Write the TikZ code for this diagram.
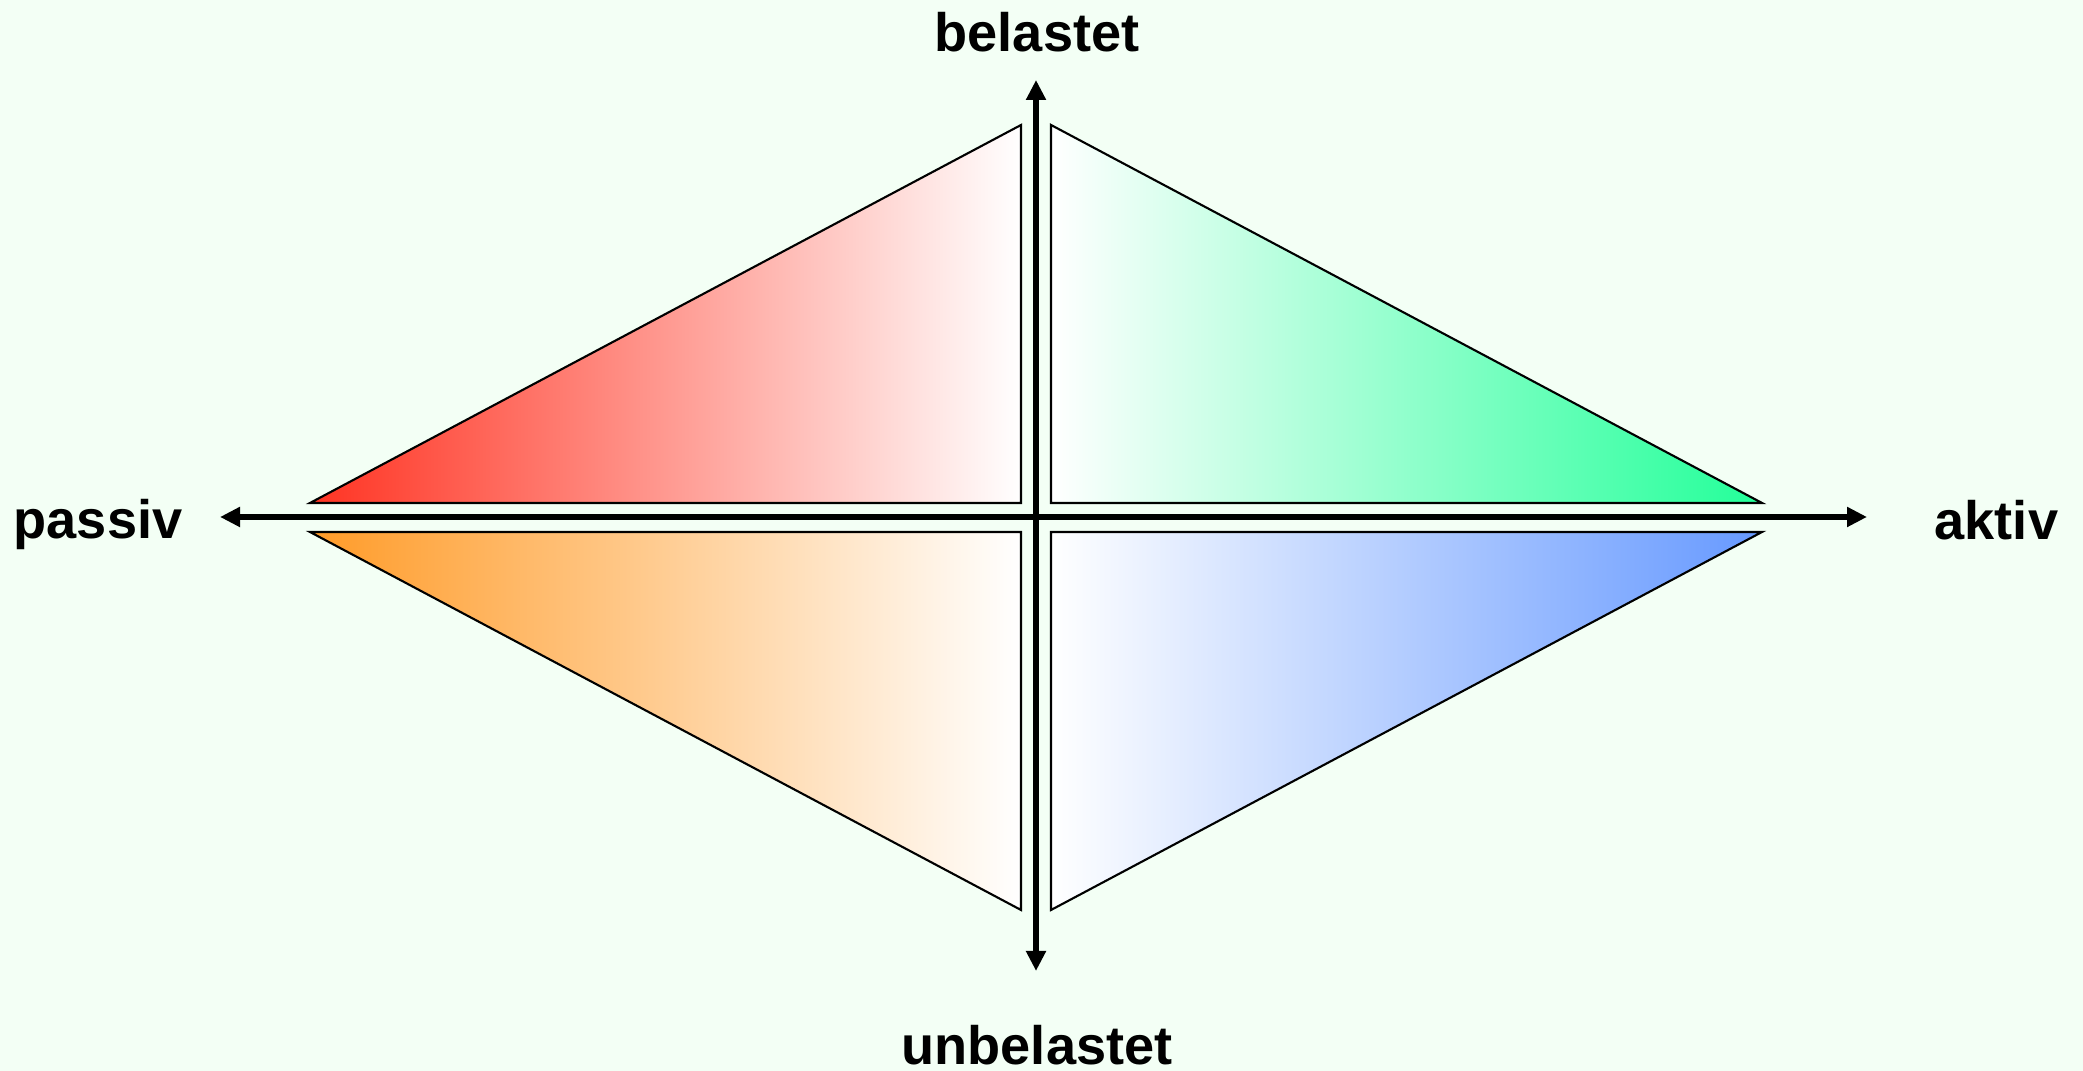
\documentclass[tikz,border=0pt]{standalone}
\usepackage{fontspec}
\setmainfont{Liberation Sans}
\usetikzlibrary{arrows.meta,positioning,calc}
\definecolor{BgMint}{RGB}{243,255,245}
\definecolor{PassRed}{RGB}{255,51,34}
\definecolor{PassOrange}{RGB}{255,155,40}
\definecolor{PassPeach}{RGB}{255,192,155}
\definecolor{ActGreen}{RGB}{34,255,153}
\definecolor{ActBlue}{RGB}{102,153,255}
\tikzset{
  tri/.style={draw=black,line width=0.6pt,line join=miter},
  axis/.style={{Triangle[length=0.2cm,width=0.19cm]}-{Triangle[length=0.2cm,width=0.19cm]},
               line width=1.8pt,black},
  lbl/.style={font=\fontsize{15.4pt}{18pt}\selectfont\bfseries,inner sep=0pt,text=black},
}
\begin{document}
\begin{tikzpicture}[x=0.01cm,y=0.01cm]
  \fill[BgMint] (0,0) rectangle (2083,1071);
  \useasboundingbox (0,0) rectangle (2083,1071);

  % the four quadrants
  \shadedraw[tri,left color=PassRed,middle color=PassRed!44!white,right color=white]
    (310,568) -- (1021,946) -- (1021,568) -- cycle;
  \shadedraw[tri,left color=white,middle color=ActGreen!28!white,right color=ActGreen]
    (1051,568) -- (1051,946) -- (1762,568) -- cycle;
  \shadedraw[tri,left color=PassOrange,middle color=PassPeach,right color=white]
    (310,539) -- (1021,161) -- (1021,539) -- cycle;
  \shadedraw[tri,left color=white,middle color=ActBlue!32!white,right color=ActBlue]
    (1051,539) -- (1051,161) -- (1762,539) -- cycle;

  % axes
  \coordinate (west) at (220,554);
  \coordinate (east) at (1867,554);
  \coordinate (north) at (1036,991);
  \coordinate (south) at (1036,100);
  \draw[axis] (west) -- (east);
  \draw[axis] (south) -- (north);

  % labels
  \node[lbl,anchor=base] (belastet) at (1037,1019) {belastet};
  \node[lbl,anchor=base] (unbelastet) at (1037,6) {unbelastet};
  \node[lbl,anchor=base west] (passiv) at (13,532) {passiv};
  \node[lbl,anchor=base west] (aktiv) at (1934,531) {aktiv};
\end{tikzpicture}
\end{document}
